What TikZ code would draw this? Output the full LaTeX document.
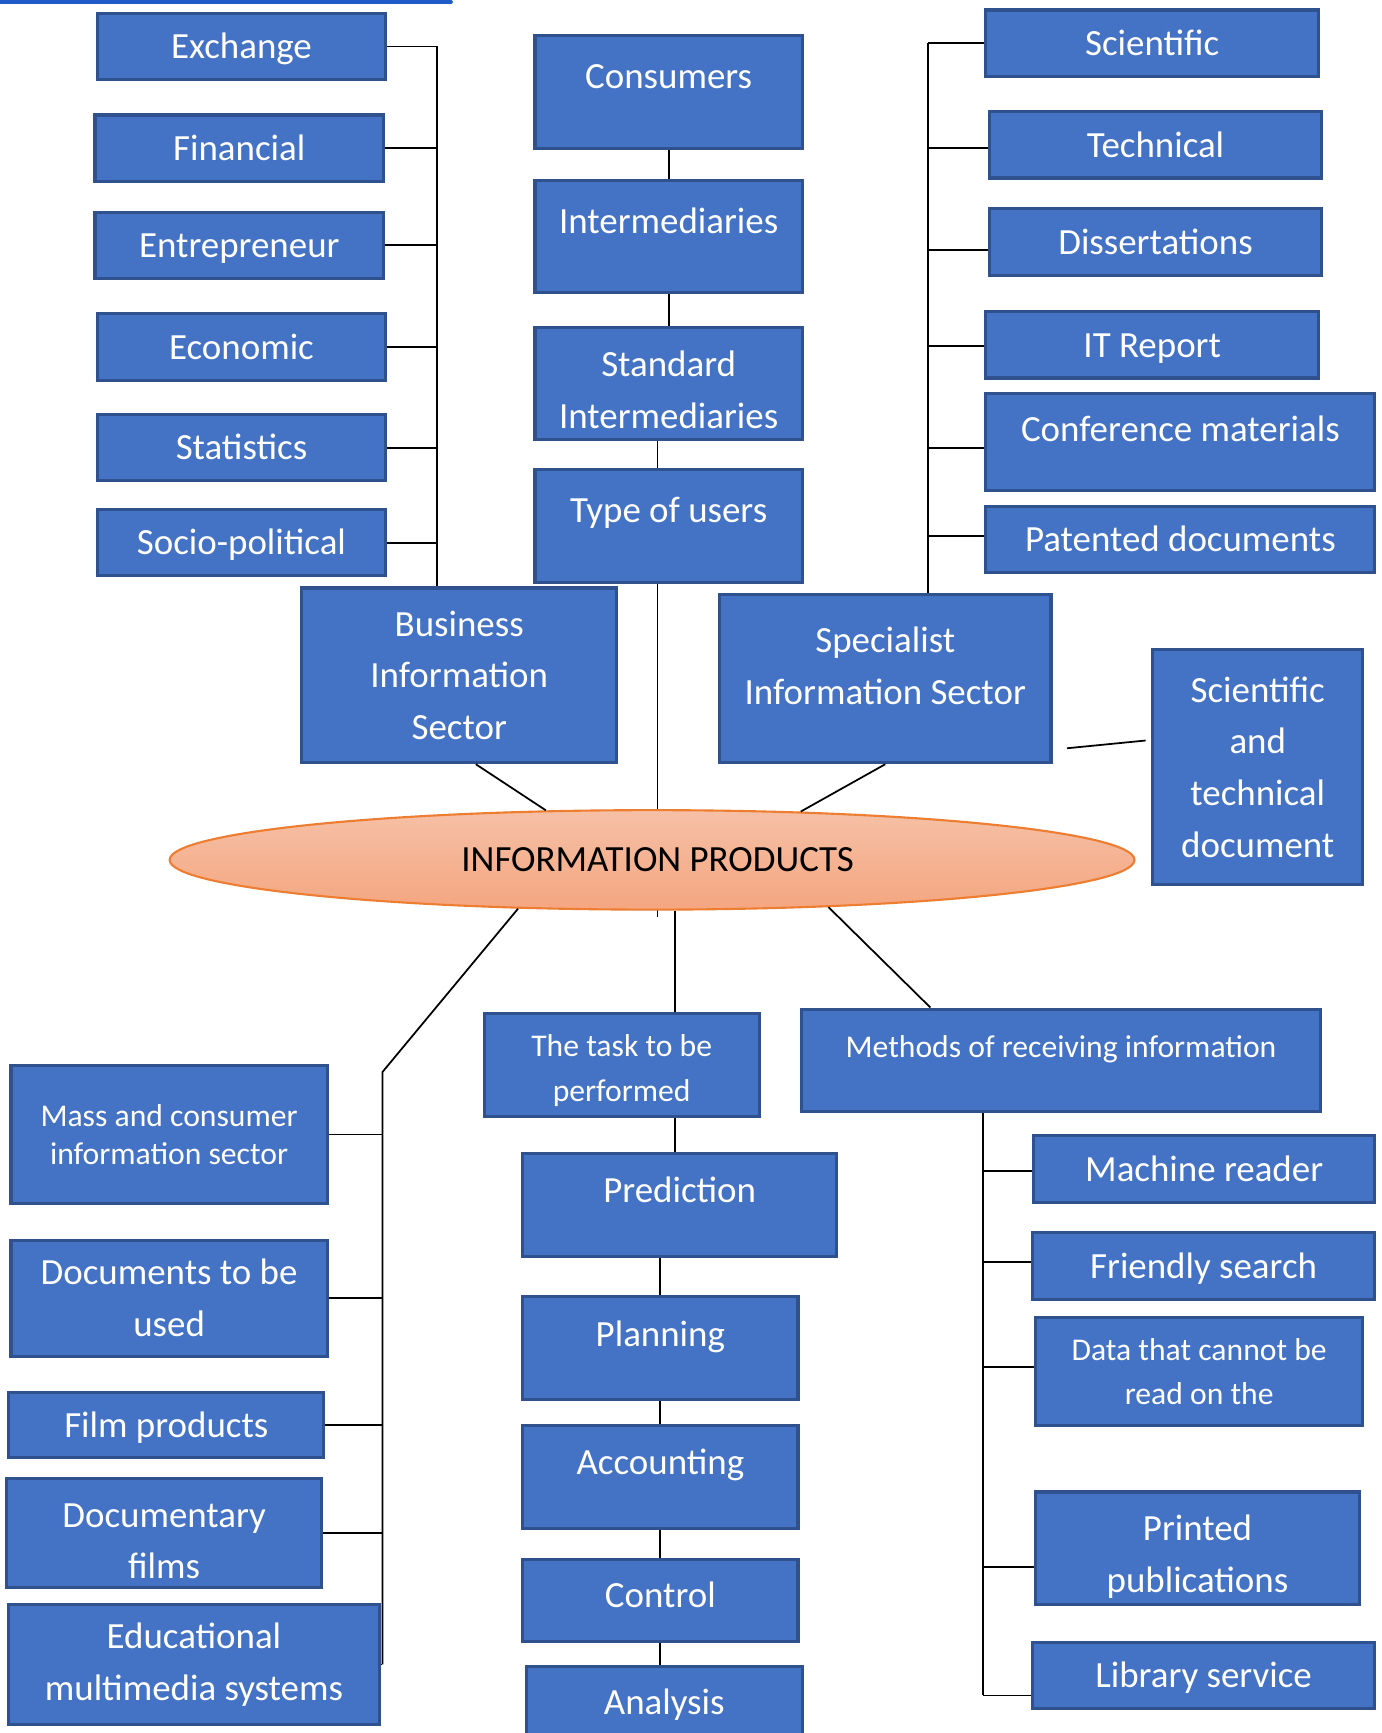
\documentclass[tikz,border=0pt]{standalone}
\usepackage{fontspec}
\setmainfont{Carlito}
\usetikzlibrary{calc,shapes.geometric}

\definecolor{boxfill}{RGB}{68,114,196}
\definecolor{boxedge}{RGB}{47,82,143}
\definecolor{prodedge}{RGB}{237,125,49}
\definecolor{prodtop}{RGB}{246,192,166}
\definecolor{prodbot}{RGB}{244,166,128}
\definecolor{pageblue}{RGB}{31,92,199}

\newdimen\pxu
\pxu=0.011048cm

\tikzset{
  box/.style={draw=boxedge, line width=0.9pt, fill=boxfill, text=white, inner sep=0pt,
    align=center, font=\fontsize{10.5}{14.7}\selectfont},
  wh/.style 2 args={minimum width=#1*\pxu, minimum height=#2*\pxu},
  small/.style={font=\fontsize{9}{#1}\selectfont},
  small/.default=12.5pt,
  oneline/.style={text height=7pt, text depth=#1},
  oneline/.default=0pt,
  prod/.style={ellipse, draw=prodedge, line width=0.6pt, top color=prodtop, bottom color=prodbot,
    wh={873}{90}, inner sep=0pt, font=\fontsize{10.5}{13}\selectfont},
  link/.style={line width=0.5pt}
}

\begin{document}
\begin{tikzpicture}[x=1\pxu, y=-1\pxu]
  \useasboundingbox (0,0) rectangle (1250,1568);
  \draw [pageblue, line width=1.1pt, line cap=round] (0,1.5) -- (408,1.5);

  \node[box, oneline, wh={261}{60}] (exch) at (218.5,42) {Exchange};
  \node[box, oneline, wh={261}{60}] (fin) at (216.5,134) {Financial};
  \node[box, oneline, wh={261}{60}] (entr) at (216.5,222) {Entrepreneur};
  \node[box, oneline, wh={261}{60}] (econ) at (218.5,314) {Economic};
  \node[box, oneline, wh={261}{60}] (stat) at (218.5,405) {Statistics};
  \node[box, oneline, wh={261}{60}] (socio) at (218.5,491) {Socio-political};

  \node[box, oneline=8.8pt, wh={242}{102}] (cons) at (605,83) {Consumers};
  \node[box, oneline=8.8pt, wh={242}{102}] (inter) at (605,214) {Intermediaries};
  \node[box, wh={242}{102}] (stdi) at (605,347) {\rule{0pt}{10.7pt}Standard\\Intermediaries};
  \node[box, oneline=8.8pt, wh={242}{102}] (tusr) at (605,476) {Type of users};

  \node[box, oneline, wh={301}{60}] (sci) at (1042.5,39) {Scientific};
  \node[box, oneline, wh={301}{60}] (tech) at (1045.5,131) {Technical};
  \node[box, oneline, wh={301}{60}] (diss) at (1045.5,219) {Dissertations};
  \node[box, oneline, wh={301}{60}] (itr) at (1042.5,312) {IT Report};
  \node[box, oneline=7.5pt, wh={352}{88}] (conf) at (1068,400) {Conference materials};
  \node[box, oneline, wh={352}{60}] (pat) at (1068,488) {Patented documents};

  \node[box, wh={285}{158}] (bis) at (415.5,611) {Business\\Information\\Sector};
  \node[box, wh={300}{152}] (sis) at (801,614) {Specialist\\Information Sector\rule[-7.5pt]{0pt}{0pt}};
  \node[box, wh={190}{212}] (stb) at (1138,694) {Scientific\\and\\technical\\document};

  % users chain runs behind the ellipse
  \draw[link] (cons.south) -- (inter.north);
  \draw[link] (inter.south) -- (stdi.north);
  \draw[link] ($(stdi.south)+(-10,0)$) -- ($(tusr.north)+(-10,0)$);
  \draw[link] ($(tusr.south)+(-10,0)$) -- ++(0,301);

  \node[prod] (ip) at (590,778) {\kern10\pxu INFORMATION PRODUCTS};

  \node[box, small=11pt, wh={286}{125}] (mass) at (153,1026.5) {Mass and consumer\\information sector};
  \node[box, wh={286}{105}] (docs) at (153,1174.5) {Documents to be\\used};
  \node[box, oneline, wh={285}{59}] (film) at (150.5,1289.5) {Film products};
  \node[box, wh={285}{98}] (docf) at (148.5,1387) {\rule{0pt}{11.5pt}Documentary\\films};
  \node[box, wh={335}{108}] (edu) at (175.5,1506) {Educational\\multimedia systems};

  \node[box, small=12.8pt, wh={249}{93}] (task) at (562.5,963.5) {\rule{0pt}{9.7pt}The task to be\\performed};
  \node[box, oneline=8.5pt, wh={284}{93}] (pred) at (615,1090.5) {Prediction};
  \node[box, oneline=7.8pt, wh={249}{93}] (plan) at (597.5,1219.5) {Planning};
  \node[box, oneline=8.5pt, wh={249}{93}] (acc) at (597.5,1336.5) {Accounting};
  \node[box, oneline=3.1pt, wh={249}{74}] (ctrl) at (597.5,1448) {Control};
  \node[box, oneline, wh={250}{64}] (ana) at (601,1540) {Analysis};

  \node[box, small, oneline=8.8pt, wh={470}{93}] (meth) at (960,959.5) {Methods of receiving information};
  \node[box, oneline, wh={309}{61}] (mach) at (1089.5,1057.5) {Machine reader};
  \node[box, oneline, wh={310}{61}] (friend) at (1089,1145.5) {Friendly search};
  \node[box, small, wh={296}{98}] (data) at (1085,1241) {Data that cannot be\\read on the};
  \node[box, wh={293}{102}] (print) at (1083.5,1401) {\rule{0pt}{11.9pt}Printed\\publications};
  \node[box, oneline, wh={310}{60}] (lib) at (1089,1516) {Library service};

  % business sector
  \coordinate (btr) at ($(exch.east)+(45,0)$);
  \draw[link] (btr) -- (btr |- bis.north);
  \foreach \n in {exch,fin,entr,econ,stat,socio}
    \draw[link] (\n.east) -- (\n.east -| btr);

  % specialist sector
  \coordinate (str) at ($(sci.west)+(-51,0)$);
  \draw[link] (str) -- (str |- sis.north);
  \foreach \n/\d in {sci/0,tech/3,diss/7,itr/1,conf/5,pat/-3}
    \draw[link] ($(\n.west)+(0,\d)$) -- ($(\n.west -| str)+(0,\d)$);

  \draw[link] ($(bis.south)+(15,0)$) -- (ip.155);
  \draw[link] (sis.south) -- (ip.18);
  \draw[link] ($(sis.east)+(13,63)$) -- ($(stb.west)+(-5,-24)$);

  % mass sector
  \coordinate (mtr) at (346,970);
  \draw[link] (ip.200) -- (mtr) -- (mtr |- edu.east);
  \foreach \n in {mass,docs,film,docf,edu}
    \draw[link] (\n.east) -- (\n.east -| mtr);

  % task chain
  \draw[link] (ip.294) -- (ip.294 |- task.north);
  \draw[link] (ip.294 |- task.south) -- (ip.294 |- pred.north);
  \draw[link] (plan.north |- pred.south) -- (plan.north);
  \foreach \a/\b in {plan/acc,acc/ctrl,ctrl/ana}
    \draw[link] (\a.south) -- (\a.south |- \b.north);

  % receiving methods
  \draw[link] (ip.345) -- ($(meth.north west)!0.25!(meth.north east)$);
  \coordinate (mrt) at ($(meth.south west)!0.35!(meth.south east)$);
  \draw[link] (mrt) -- ($(mrt |- lib.west)+(0,18)$);
  \foreach \n/\d in {mach/2,friend/-4,data/-4,print/17,lib/18}
    \draw[link] ($(\n.west)+(0,\d)$) -- ($(\n.west -| mrt)+(0,\d)$);
\end{tikzpicture}
\end{document}
